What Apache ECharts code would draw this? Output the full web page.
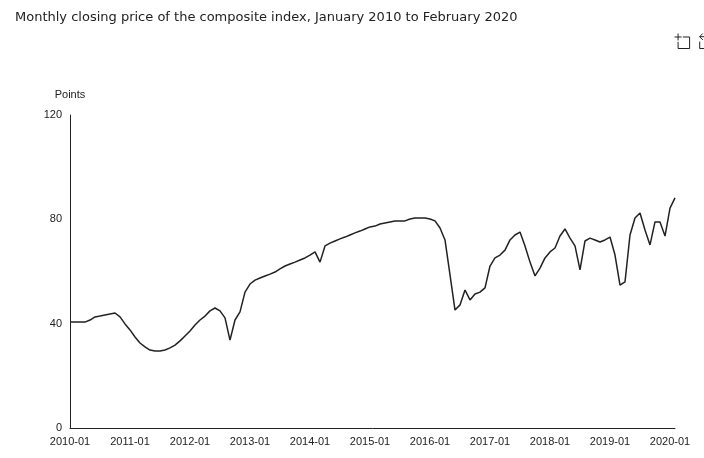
<!DOCTYPE html>
<html>
<head>
<meta charset="utf-8">
<title>Monthly closing price</title>
<script src="https://cdn.jsdelivr.net/npm/echarts@6/dist/echarts.min.js"></script>
<style>
  html, body { margin: 0; padding: 0; background: #fff; }
  #chart { width: 704px; height: 458px; }
</style>
</head>
<body>
<div id="chart"></div>
<script>
// Month labels, January 2010 onward
const years = ['2010','2011','2012','2013','2014','2015','2016','2017','2018','2019','2020'];
const months = ['01','02','03','04','05','06','07','08','09','10','11','12'];
const categories = [];
years.forEach(function (y) { months.forEach(function (m) { categories.push(y + '-' + m); }); });
categories.length = 122;

// Monthly closing values
const closePrice = [
  40.6, 40.6, 40.6, 40.6, 41.4, 42.6, 42.9, 43.3, 43.7, 44.1,
  42.6, 39.9, 37.6, 34.9, 32.6, 31.1, 29.9, 29.5, 29.5, 29.9,
  30.7, 31.8, 33.4, 35.3, 37.2, 39.5, 41.4, 42.9, 44.9, 46.0,
  44.9, 42.2, 33.7, 41.4, 44.5, 52.1, 55.2, 56.7, 57.5, 58.3,
  59.0, 59.8, 61.0, 62.1, 62.9, 63.6, 64.4, 65.2, 66.3, 67.5,
  63.6, 69.8, 70.9, 71.7, 72.5, 73.2, 74.0, 74.8, 75.5, 76.3,
  77.1, 77.4, 78.2, 78.6, 79.0, 79.4, 79.4, 79.4, 80.1, 80.5,
  80.5, 80.5, 80.1, 79.4, 76.7, 72.1, 58.7, 45.2, 47.2, 52.9,
  49.1, 51.4, 52.1, 53.7, 62.1, 65.2, 66.3, 68.2, 72.1, 74.0,
  75.1, 69.8, 63.6, 58.3, 61.3, 65.2, 67.5, 69.0, 73.6, 76.3,
  72.8, 69.8, 60.6, 71.7, 72.8, 72.1, 71.3, 72.1, 73.2, 66.3,
  54.8, 56.0, 74.0, 80.5, 82.4, 75.9, 70.2, 79.0, 79.0, 73.6,
  84.3, 88.2
];

const yTicks = { min: 0, max: 120, interval: 40 };

const chart = echarts.init(document.getElementById('chart'));
chart.setOption({
  animation: false,
  title: {
    text: 'Monthly closing price of the composite index, January 2010 to February 2020',
    left: 10,
    top: 6,
    textStyle: { fontSize: 13, fontWeight: 'normal', color: '#222', fontFamily: 'DejaVu Sans' }
  },
  toolbox: {
    right: -25,
    top: 16,
    itemSize: 15,
    itemGap: 5,
    feature: { dataZoom: { yAxisIndex: 'none' } },
    iconStyle: { borderColor: '#222' }
  },
  grid: { left: 70, right: 29, top: 115, bottom: 30 },
  xAxis: {
    type: 'category',
    data: categories,
    boundaryGap: false,
    axisLine: { lineStyle: { color: '#222' } },
    axisTick: { show: false },
    axisLabel: { interval: 11, color: '#222', fontSize: 11 }
  },
  yAxis: {
    type: 'value',
    name: 'Points',
    nameTextStyle: { color: '#222', fontSize: 11 },
    min: yTicks.min,
    max: yTicks.max,
    interval: yTicks.interval,
    axisLine: { show: true, lineStyle: { color: '#222' } },
    axisLabel: { color: '#222', fontSize: 11 },
    splitLine: { show: false }
  },
  series: [{
    type: 'line',
    name: 'Close',
    data: closePrice,
    showSymbol: false,
    lineStyle: { color: '#222', width: 1.5 },
    itemStyle: { color: '#222' }
  }]
});
</script>
</body>
</html>
